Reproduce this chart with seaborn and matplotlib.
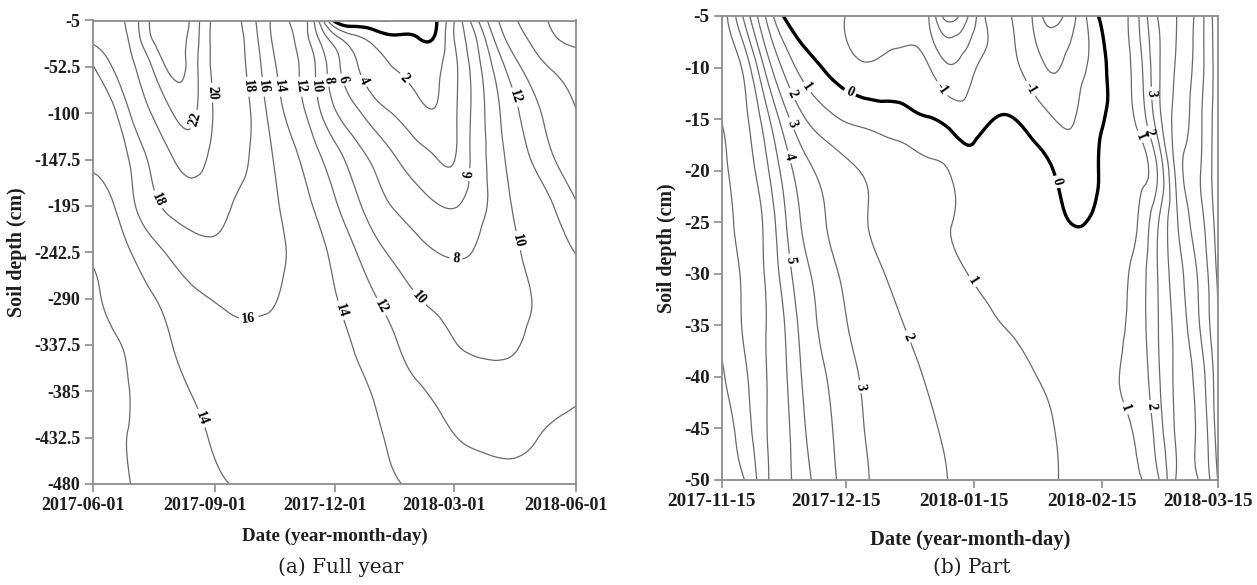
import numpy as np
import pandas as pd
import seaborn as sns
import matplotlib.pyplot as plt
import matplotlib.dates as mdates
import matplotlib.tri as mtri
from matplotlib.transforms import ScaledTranslation

sns.set_style('ticks')
plt.rcParams['font.family'] = ['Liberation Serif', 'DejaVu Serif']
plt.rcParams['contour.negative_linestyle'] = 'solid'

# ---- (a) full year: soil temperature (deg C), half-monthly readings per depth (cm)
dates_a = ['2017-06-01', '2017-06-16', '2017-07-01', '2017-07-16', '2017-08-01', '2017-08-16',
           '2017-09-01', '2017-09-16', '2017-10-01', '2017-10-16', '2017-11-01', '2017-11-16',
           '2017-12-01', '2017-12-16', '2018-01-01', '2018-01-16', '2018-02-01', '2018-02-16',
           '2018-03-01', '2018-03-16', '2018-04-01', '2018-04-16', '2018-05-01', '2018-05-16',
           '2018-06-01']
depths_a = [-5, -25, -52.5, -100, -147.5, -195, -242.5, -290, -337.5, -385, -432.5, -480]
t_a_5 = [19, 19.5, 21, 24.5, 25.5, 23.2, 19.5, 18.5, 16.2, 13.5, 11.5, 7.5, -0.5, -1.5, -1.9,
         -1.8, -1.2, 0.05, 4.0, 9.0, 13.5, 15.8, 17.3, 18.3, 19.0]
t_a_25 = [18.4, 19.0, 20.6, 24.0, 24.8, 23.0, 19.4, 18.6, 16.6, 13.7, 11.9, 8.8, 5.0, 2.8, 1.3,
          0.5, 0.2, 0.5, 4.0, 7.5, 12.2, 15.0, 16.5, 17.8, 18.4]
t_a_52 = [15.9, 18.1, 19.8, 22.1, 24.6, 22.8, 19.5, 18.6, 17.0, 14.2, 12.3, 10.0, 6.7, 4.3, 2.7,
          1.9, 1.5, 1.7, 3.5, 6.8, 10.5, 13.4, 15.2, 16.3, 17.0]
t_a_100 = [15.2, 15.6, 18.4, 20.1, 22.1, 22.3, 19.8, 18.8, 17.6, 15.0, 13.0, 10.8, 8.2, 6.5, 4.8,
           3.8, 2.6, 2.15, 3.6, 6.5, 9.4, 11.6, 13.5, 14.8, 15.9]
t_a_147 = [14.4, 14.9, 16.4, 18.5, 20.0, 20.7, 19.4, 18.6, 17.6, 15.9, 14.3, 12.6, 10.9, 9.0, 7.5,
           6.1, 4.9, 4.05, 3.95, 6.6, 8.9, 11.0, 12.3, 14.0, 14.9]
t_a_195 = [13.45, 13.9, 15.7, 17.5, 18.5, 18.9, 18.6, 17.9, 17.2, 16.3, 15.0, 13.8, 12.2, 10.6, 8.8,
           7.8, 6.9, 6.1, 5.9, 7.0, 8.6, 10.3, 11.1, 12.1, 13.8]
t_a_242 = [12.3, 13.0, 14.1, 15.3, 16.5, 17.3, 17.6, 17.4, 17.0, 16.5, 15.6, 14.8, 13.4, 12.1, 10.6,
           9.5, 8.6, 8.0, 7.75, 8.1, 9.2, 9.8, 10.6, 11.3, 12.05]
t_a_290 = [11.9, 12.3, 13.2, 13.9, 14.8, 15.6, 16.1, 16.4, 16.35, 16.1, 15.3, 14.7, 14.1, 13.1, 12.05,
           11.1, 10.1, 9.6, 9.3, 9.2, 9.4, 9.7, 10.1, 10.9, 11.6]
t_a_337 = [11.7, 11.9, 12.3, 13.2, 14.05, 14.7, 15.2, 15.5, 15.6, 15.5, 15.3, 15.1, 14.6, 13.9, 13.05,
           12.1, 11.3, 10.7, 10.1, 9.75, 9.6, 9.85, 10.5, 11.1, 11.5]
t_a_385 = [11.5, 11.6, 12.1, 12.8, 13.5, 14.1, 14.5, 14.8, 15.05, 15.05, 14.9, 14.7, 14.4, 14.2, 13.8,
           12.8, 12.2, 11.7, 11.3, 11.0, 10.9, 11.05, 11.3, 11.6, 11.85]
t_a_432 = [11.4, 11.75, 12.1, 12.5, 13.1, 13.6, 14.15, 14.4, 14.6, 14.7, 14.7, 14.5, 14.3, 14.2, 14.1,
           13.7, 13.05, 12.5, 12.05, 11.8, 11.65, 11.7, 11.95, 12.2, 12.3]
t_a_480 = [11.2, 11.6, 12.05, 12.5, 13.05, 13.4, 13.8, 14.05, 14.3, 14.4, 14.4, 14.3, 14.2, 14.15, 14.1,
           14.05, 13.75, 13.4, 13.1, 12.8, 12.6, 12.5, 12.45, 12.4, 12.4]
temps_a = [t_a_5, t_a_25, t_a_52, t_a_100, t_a_147, t_a_195, t_a_242,
           t_a_290, t_a_337, t_a_385, t_a_432, t_a_480]

# ---- (b) part: soil temperature (deg C), 5-daily readings per depth (cm)
dates_b = ['2017-11-15', '2017-11-20', '2017-11-25', '2017-11-30', '2017-12-05', '2017-12-10',
           '2017-12-15', '2017-12-20', '2017-12-25', '2017-12-30', '2018-01-04', '2018-01-09',
           '2018-01-14', '2018-01-19', '2018-01-24', '2018-01-29', '2018-02-03', '2018-02-08',
           '2018-02-13', '2018-02-18', '2018-02-23', '2018-02-28', '2018-03-05', '2018-03-10',
           '2018-03-15']
depths_b = [-5, -10, -15, -20, -25, -30, -35, -40, -45, -50]
t_b_5 = [7.5, 5.0, 2.25, -0.05, -0.8, -0.9, -1.02, -1.6, -1.5, -1.3, -2.0, -4.5, -2.8, -0.6, -1.0,
         -2.0, -3.5, -2.2, -0.3, 0.5, 1.6, 3.9, 5.0, 6.3, 8.7]
t_b_10 = [7.7, 6.9, 4.1, 1.8, 0.55, -0.1, -0.6, -0.9, -0.75, -0.7, -0.95, -1.9, -1.3, -0.7, -0.8,
          -1.4, -2.1, -1.5, -0.7, 0.4, 1.3, 3.6, 5.1, 6.4, 8.6]
t_b_15 = [7.95, 7.3, 5.7, 3.5, 2.05, 1.35, 0.9, 0.7, 0.5, 0.3, 0.05, -0.3, -0.5, -0.05, 0.05,
          -0.4, -0.95, -1.05, -0.3, 0.3, 1.05, 3.3, 5.3, 6.6, 8.6]
t_b_20 = [8.2, 7.55, 6.45, 4.65, 3.35, 2.7, 2.25, 1.9, 1.65, 1.45, 1.2, 0.98, 0.4, 0.7, 0.75,
          0.4, 0.02, -0.5, -0.15, 0.35, 0.65, 1.8, 5.3, 6.8, 8.7]
t_b_25 = [8.4, 7.75, 6.95, 5.2, 3.8, 3.02, 2.5, 2.02, 1.75, 1.5, 1.25, 1.02, 0.85, 0.75, 0.65,
          0.5, 0.2, -0.02, 0.1, 0.35, 0.85, 2.7, 4.9, 6.5, 8.5]
t_b_30 = [8.6, 7.9, 7.05, 5.6, 4.25, 3.45, 2.8, 2.4, 1.95, 1.7, 1.45, 1.2, 0.98, 0.85, 0.7,
          0.55, 0.4, 0.3, 0.3, 0.6, 1.3, 2.85, 4.55, 6.02, 8.2]
t_b_35 = [8.85, 7.95, 7.1, 6.05, 4.55, 3.75, 3.05, 2.65, 2.3, 1.95, 1.75, 1.55, 1.35, 1.1, 0.95,
          0.8, 0.65, 0.55, 0.55, 0.8, 1.35, 2.8, 4.3, 5.8, 7.9]
t_b_40 = [9.05, 8.3, 7.15, 6.2, 4.8, 4.03, 3.4, 2.85, 2.6, 2.2, 1.95, 1.75, 1.55, 1.4, 1.25,
          1.05, 0.9, 0.8, 0.75, 0.95, 1.3, 2.65, 4.2, 5.3, 7.6]
t_b_45 = [9.3, 8.6, 7.2, 6.3, 5.05, 4.2, 3.55, 2.95, 2.7, 2.4, 2.1, 1.9, 1.75, 1.6, 1.45,
          1.3, 1.02, 0.9, 0.85, 0.95, 1.05, 2.3, 4.15, 5.1, 7.5]
t_b_50 = [9.5, 9.1, 7.4, 6.3, 5.35, 4.4, 3.65, 3.05, 2.8, 2.5, 2.25, 1.98, 1.8, 1.6, 1.45,
          1.25, 1.05, 0.95, 0.9, 0.9, 0.9, 1.7, 4.1, 4.95, 7.05]
temps_b = [t_b_5, t_b_10, t_b_15, t_b_20, t_b_25, t_b_30, t_b_35, t_b_40, t_b_45, t_b_50]

levels_a = np.arange(-2, 26, 2)
levels_b = np.arange(-4, 10, 1)

# where the contour labels sit (date, depth)
labels_a = [('2017-08-31', -79), ('2017-08-13', -105), ('2017-07-19', -189), ('2017-09-25', -73),
            ('2017-10-07', -73), ('2017-10-19', -73), ('2017-11-04', -73), ('2017-11-17', -73),
            ('2017-11-27', -66), ('2017-12-05', -66), ('2017-12-21', -68), ('2018-01-21', -66),
            ('2018-04-17', -83), ('2018-03-13', -163), ('2018-03-02', -253), ('2018-04-20', -230),
            ('2018-02-03', -288), ('2018-01-04', -299), ('2017-12-03', -303), ('2017-09-28', -319),
            ('2017-08-19', -414)]
labels_a0 = []
labels_b = [('2017-12-06', -11.8), ('2017-12-03', -12.4), ('2017-12-02', -15.4), ('2017-12-01', -18.7),
            ('2017-12-01', -28.7), ('2017-12-18', -41), ('2017-12-30', -36.1), ('2018-01-14', -30.9),
            ('2018-01-06', -12.4), ('2018-01-28', -12.2), ('2018-02-26', -12.5), ('2018-02-26', -16.3),
            ('2018-02-23', -16.9), ('2018-02-21', -43), ('2018-02-26', -42.9)]
labels_b0 = [('2017-12-16', -12.4), ('2018-02-03', -21.2)]


def draw_panel(ax, dates, depths, temps, levels, lab, lab0, xlim, xticks, yticks, fs, fx):
    xd = mdates.date2num(pd.to_datetime(dates))
    X, Y = np.meshgrid(xd, np.array(depths, dtype=float))
    Z = np.array(temps, dtype=float)
    ny, nx = Z.shape
    idx = np.arange(ny * nx).reshape(ny, nx)
    a, b = idx[:-1, :-1].ravel(), idx[:-1, 1:].ravel()
    c, d = idx[1:, 1:].ravel(), idx[1:, :-1].ravel()
    tris = np.vstack([np.c_[a, b, c], np.c_[a, c, d]])
    # smooth in a unit square so the cubic refinement is not stretched
    x0, xs = xd.min(), np.ptp(xd)
    y0, ys = Y.min(), np.ptp(Y)
    tri = mtri.Triangulation((X.ravel() - x0) / xs, (Y.ravel() - y0) / ys, tris)
    tri_f, z_f = mtri.UniformTriRefiner(tri).refine_field(Z.ravel(), subdiv=3)
    tri_f = mtri.Triangulation(x0 + tri_f.x * xs, y0 + tri_f.y * ys, tri_f.triangles)

    thin = [lv for lv in levels if lv != 0]
    cs = ax.tricontour(tri_f, z_f, levels=thin, colors='#6a6a6a', linewidths=0.9,
                       linestyles='solid')
    cs0 = ax.tricontour(tri_f, z_f, levels=[0], colors='black', linewidths=2.4)

    lo, hi = mdates.date2num(pd.to_datetime(xlim))
    ax.set_xlim(lo, hi)
    ax.set_ylim(min(depths), max(depths))
    ax.set_xticks(mdates.date2num(pd.to_datetime(xticks)))
    ax.xaxis.set_major_formatter(mdates.DateFormatter('%Y-%m-%d'))
    ax.set_yticks(yticks)
    ax.set_yticklabels(['{:g}'.format(v) for v in yticks])

    pos = [(mdates.date2num(pd.Timestamp(s)), v) for s, v in lab]
    txt = ax.clabel(cs, manual=pos, inline=True, fmt='%d', fontsize=10, colors='black',
                    inline_spacing=3)
    if lab0:
        pos0 = [(mdates.date2num(pd.Timestamp(s)), v) for s, v in lab0]
        txt += ax.clabel(cs0, manual=pos0, inline=True, fmt='%d', fontsize=10, colors='black',
                         inline_spacing=3)
    for t in txt:
        t.set_fontweight('bold')

    for sp in ax.spines.values():
        sp.set_color('#8c8c8c')
        sp.set_linewidth(1.3)
    ax.tick_params(direction='out', length=6, width=1.2, color='#8c8c8c',
                   labelsize=fs, labelcolor='#1e1e1e', pad=3)
    for t in ax.get_xticklabels() + ax.get_yticklabels():
        t.set_fontweight('bold')
    # date labels sit a little left of their ticks in the original
    shift = ScaledTranslation(-10 / 100, 0, ax.figure.dpi_scale_trans)
    for t in ax.get_xticklabels():
        t.set_transform(t.get_transform() + shift)
    ax.set_ylabel('Soil depth (cm)', fontsize=14.4, color='#1e1e1e', fontweight='bold')
    ax.set_xlabel('Date (year-month-day)', fontsize=fx, color='#1e1e1e', fontweight='bold')


fig = plt.figure(figsize=(12.57, 5.85), dpi=100)
ax_a = fig.add_axes([93 / 1257, 1 - 484 / 585, 483 / 1257, 463.5 / 585])
ax_b = fig.add_axes([722 / 1257, 1 - 480 / 585, 496 / 1257, 464 / 585])

draw_panel(ax_a, dates_a, depths_a, temps_a, levels_a, labels_a, labels_a0,
           ['2017-06-01', '2018-06-01'],
           ['2017-06-01', '2017-09-01', '2017-12-01', '2018-03-01', '2018-06-01'],
           [-5 - 47.5 * i for i in range(11)], 13, 13.7)
draw_panel(ax_b, dates_b, depths_b, temps_b, levels_b, labels_b, labels_b0,
           ['2017-11-15', '2018-03-15'],
           ['2017-11-15', '2017-12-15', '2018-01-15', '2018-02-15', '2018-03-15'],
           [-5 - 5 * i for i in range(10)], 13.8, 14.8)

ax_a.yaxis.set_label_coords(-0.137, 0.5)
ax_b.yaxis.set_label_coords(-0.091, 0.5)
ax_a.xaxis.set_label_coords(0.5, -0.095)
ax_b.xaxis.set_label_coords(0.5, -0.108)

fig.text(0.271, 0.031, '(a) Full year', ha='center', va='center', fontsize=14.4,
         family=['DejaVu Serif'], color='#222222')
fig.text(0.773, 0.031, '(b) Part', ha='center', va='center', fontsize=14.4,
         family=['DejaVu Serif'], color='#222222')

fig.savefig('out.png', dpi=100, facecolor='white')
